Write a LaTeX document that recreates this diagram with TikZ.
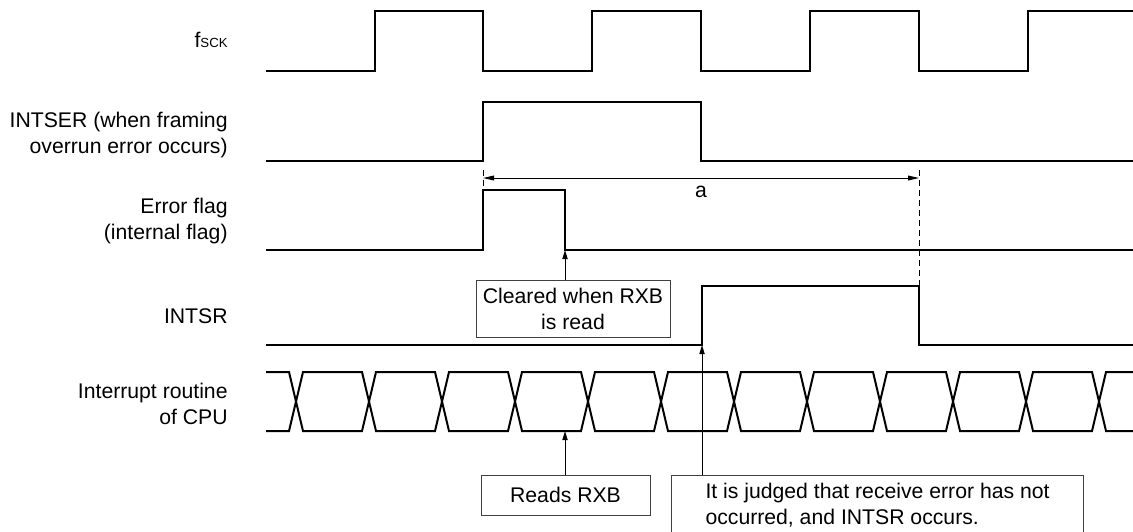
\documentclass[tikz,border=0pt]{standalone}
\usepackage{fontspec}
\setmainfont{Liberation Sans}
\usetikzlibrary{arrows.meta}

\begin{document}
\begin{tikzpicture}[
  x=0.5pt, y=-0.5pt,
  every node/.style={font=\fontsize{10.6}{13}\selectfont, inner sep=0pt},
  sig/.style={line width=1pt, line join=miter},
  lbl/.style={anchor=east, align=right},
  note/.style={rectangle, draw=black!75, line width=0.5pt, align=center},
  ptr/.style={line width=0.5pt, -{Triangle[length=4.5pt, width=2.6pt]}},
  dimline/.style={line width=0.5pt, {Triangle[length=5.5pt, width=2.4pt]}-{Triangle[length=5.5pt, width=2.4pt]}},
  guide/.style={line width=0.5pt, dash pattern=on 3pt off 2pt}
]
\path[use as bounding box, clip] (0,0) rectangle (1133,531);

% Signal names
\node[lbl] (sck_lbl) at (228,40) {f{\fontsize{6.6}{7}\selectfont SCK}};
\node[lbl] (intser_lbl) at (228,135.5) {INTSER (when framing\\overrun error occurs)};
\node[lbl] (flag_lbl) at (228,221.5) {Error flag\\(internal flag)};
\node[lbl] (intsr_lbl) at (228,316.4) {INTSR};
\node[lbl] (cpu_lbl) at (228,403.5) {Interrupt routine\\of CPU};

% Waveforms
\draw[sig] (266,71) -| (375,11) -| (483,71) -| (592,11) -| (701,71) -| (810,11) -| (919,71) -| (1028,11) -- (1133,11);
\draw[sig] (266,161) -| (483,102) -| (701,161) -- (1133,161);
\draw[sig] (266,250) -| (483,190) -| (565,250) -- (1133,250);
\draw[sig] (266,345) -| (702,286) -| (919,345) -- (1133,345);

% Interrupt routine of CPU
\draw[sig] (266,372) -- (289,372) -- (296,401.5) -- (289,431) -- (266,431);
\foreach \i in {0,...,10}
  \draw[sig] ({296+73*\i},401.5) -- ++(7,-29.5) -- ++(59,0) -- ++(7,29.5) -- ++(-7,29.5) -- ++(-59,0) -- cycle;
\draw[sig] (1133,372) -- (1106,372) -- (1099,401.5) -- (1106,431) -- (1133,431);

% Points on the waveforms
\coordinate (flagclr) at (565,250);
\coordinate (busread) at (565,431);
\coordinate (srrise) at (702,345);
\coordinate (dimL) at (483,178);
\coordinate (dimR) at (919,178);

% Interval a
\draw[guide] (483,170) -- (483,189);
\draw[guide] (919,170) -- (919,286);
\draw[dimline] (dimL) -- (dimR);
\node (dim_lbl) at (701,192) {a};

% Notes
\node[note, minimum width=97pt, minimum height=28.5pt] (clrbox) at (573,308.5) {Cleared when RXB\\is read};
\node[note, minimum width=84.5pt, minimum height=20pt] (readbox) at (565.5,495) {Reads RXB};
\node[note, align=left, anchor=north west, inner xsep=17pt, inner ysep=3.8pt] (judgebox) at (671,475) {It is judged that receive error has not\\occurred, and INTSR occurs.};

% Pointers
\draw[ptr] (clrbox.north -| flagclr) -- (flagclr);
\draw[ptr] (readbox.north -| busread) -- (busread);
\draw[ptr] (judgebox.north -| srrise) -- (srrise);

\end{tikzpicture}
\end{document}
